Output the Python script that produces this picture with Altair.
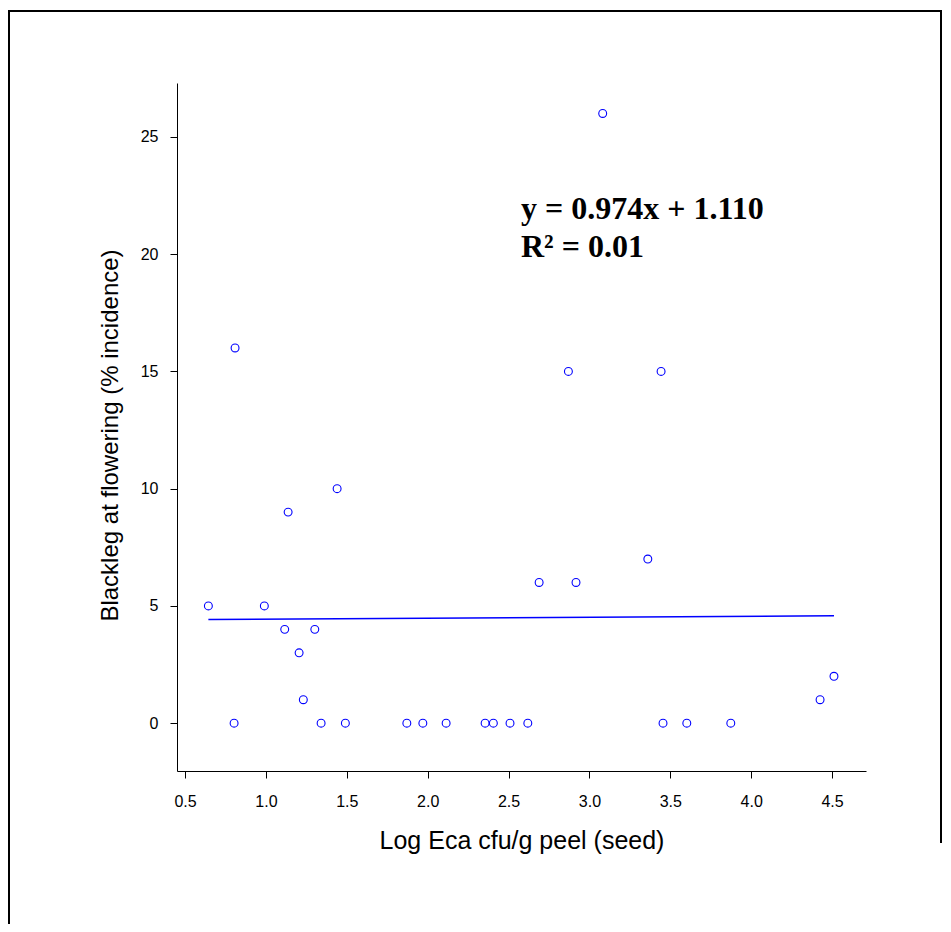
import altair as alt
import pandas as pd

log_cfu = [0.644, 0.809, 0.803, 0.990, 1.116, 1.137, 1.205, 1.231, 1.302, 1.341,
           1.440, 1.491, 1.871, 1.970, 2.114, 2.355, 2.406, 2.509, 2.619, 2.689,
           2.870, 2.917, 3.082, 3.361, 3.443, 3.455, 3.602, 3.874, 4.426, 4.512]
blackleg = [5, 16, 0, 5, 4, 9, 3, 1, 4, 0,
            10, 0, 0, 0, 0, 0, 0, 0, 0, 6,
            15, 6, 26, 7, 15, 0, 0, 0, 1, 2]

# Fitted line end points
fit_x = [0.644, 4.512]
fit_y = [4.42, 4.58]

# Annotation
ann_x = [2.577]
ann_y = [21.5]
ann_text = ["y = 0.974x + 1.110\nR² = 0.01"]

x_ticks = [0.5, 1.0, 1.5, 2.0, 2.5, 3.0, 3.5, 4.0, 4.5]
y_ticks = [0, 5, 10, 15, 20, 25]
x_domain = [0.45, 4.71]
y_domain = [-2.04, 27.3]

pts = pd.DataFrame({"x": log_cfu, "y": blackleg})
fit = pd.DataFrame({"x": fit_x, "y": fit_y})
ann = pd.DataFrame({"x": ann_x, "y": ann_y, "t": ann_text})
dummy = pd.DataFrame({"a": [0]})

xscale = alt.Scale(domain=x_domain, nice=False, zero=False)
yscale = alt.Scale(domain=y_domain, nice=False, zero=False)

xaxis = alt.Axis(values=x_ticks, format=".1f", title="Log Eca cfu/g peel (seed)",
                 labelPadding=15, titlePadding=19, titleFontSize=25)
yaxis = alt.Axis(values=y_ticks, format="d", title="Blackleg at flowering (% incidence)",
                 labelPadding=12, titlePadding=18, titleY=352)

points = alt.Chart(pts).mark_point(
    shape="circle", filled=False, color="#0000ff", size=62, strokeWidth=1.1, opacity=1
).encode(
    x=alt.X("x:Q", scale=xscale, axis=xaxis),
    y=alt.Y("y:Q", scale=yscale, axis=yaxis),
)

line = alt.Chart(fit).mark_line(color="#0000ff", strokeWidth=1.5).encode(
    x="x:Q", y="y:Q"
)

text = alt.Chart(ann).mark_text(
    font="Liberation Serif", fontWeight="bold", fontSize=32, align="left",
    baseline="alphabetic", lineBreak="\n", lineHeight=38, color="black"
).encode(x="x:Q", y="y:Q", text="t:N")

frame_left = alt.Chart(dummy).mark_rule(color="black", strokeWidth=2).encode(
    x=alt.value(-168), y=alt.value(-73), y2=alt.value(860))
frame_top = alt.Chart(dummy).mark_rule(color="black", strokeWidth=2).encode(
    x=alt.value(-169), x2=alt.value(764), y=alt.value(-72))
frame_right = alt.Chart(dummy).mark_rule(color="black", strokeWidth=2).encode(
    x=alt.value(764), y=alt.value(-73), y2=alt.value(760))

chart = alt.layer(points, line, text, frame_left, frame_top, frame_right).properties(
    width=689, height=688,
    autosize=alt.AutoSizeParams(type="none"),
    padding={"left": 169, "top": 75, "right": 77, "bottom": 153},
    background="white",
).configure_view(stroke=None).configure_axis(
    grid=False,
    domainColor="black", tickColor="black", labelColor="black", titleColor="black",
    tickSize=7, domainWidth=1, tickWidth=1,
    labelFont="Liberation Sans", titleFont="Liberation Sans",
    labelFontSize=16, titleFontSize=24, titleFontWeight="normal",
)

chart.save("out.html", embed_options={"renderer": "svg", "actions": False})
